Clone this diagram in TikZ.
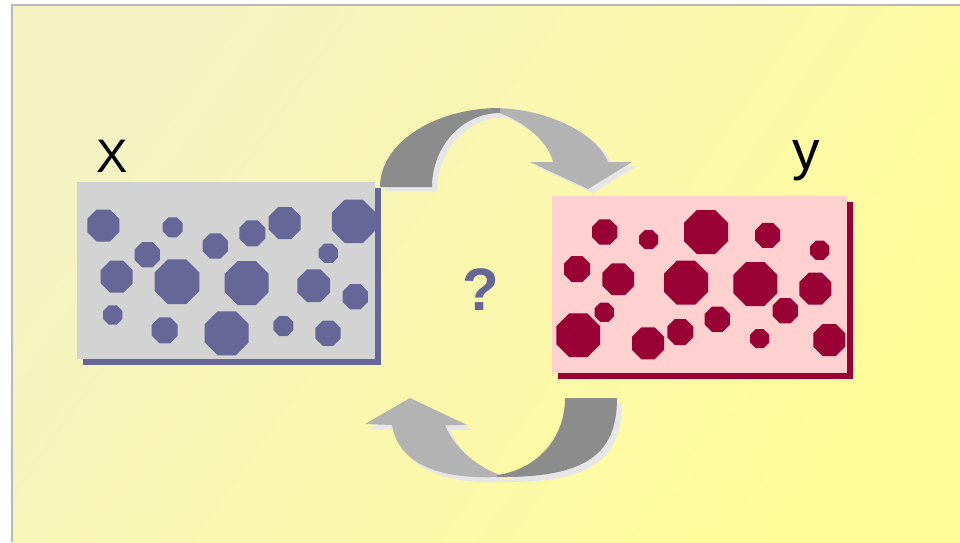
\documentclass[tikz,border=0pt]{standalone}
\usepackage{fontspec}
\setmainfont{Liberation Sans}
\usetikzlibrary{shadows}

\definecolor{bgpale}{HTML}{F5F3C2}
\definecolor{bgmid}{HTML}{FBF9A9}
\definecolor{bgyellow}{HTML}{FFFC9A}
\definecolor{framegray}{HTML}{B8B8B8}
\definecolor{xgray}{HTML}{D3D3D3}
\definecolor{xblue}{HTML}{666699}
\definecolor{ypink}{HTML}{FFD0D0}
\definecolor{ycrimson}{HTML}{990033}
\definecolor{arrowdark}{HTML}{8C8C8C}
\definecolor{arrowlight}{HTML}{B3B3B3}
\definecolor{arrowshadow}{HTML}{E6E6E6}

% ribbon arrow outlines (1 unit = 1pt, y grows downwards)
\def\toparrowdark{(380,187) .. controls (380,143.4) and (433.7,108) .. (500,108)
  -- (500,113) .. controls (462.4,113) and (432,146.1) .. (432,187) -- cycle}
\def\toparrowlight{(490,108) .. controls (540,107) and (595,130) .. (608,162)
  -- (632,162) -- (588,189) -- (530,162) -- (553,162)
  .. controls (548,140) and (520,118) .. (490,110) -- cycle}
\def\botarrowdark{(565,398) -- (617,398) .. controls (617,455) and (585,478) .. (497,477)
  -- (497,475) .. controls (535,470) and (565,440) .. (565,398) -- cycle}
\def\botarrowlight{(500,477) .. controls (450,479) and (400,470) .. (392,425)
  -- (365,424) -- (410,398) -- (467,425) -- (445,425)
  .. controls (455,450) and (480,468) .. (500,475) -- cycle}

\begin{document}
\begin{tikzpicture}[x=1pt,y=-1pt,
  panel/.style={inner sep=0pt, outer sep=0pt, anchor=north west,
    minimum width=#1pt},
  lbl/.style={inner sep=0pt, anchor=base},
  octagon/.style={fill=#1},
]
\useasboundingbox (0,0) rectangle (960,542);
\fill[white] (0,0) rectangle (960,542);

% slide background with frame edge
\shade[top color=bgpale, middle color=bgmid, bottom color=bgyellow, shading angle=55]
  (12,5) rectangle (960,542);
\draw[framegray, line width=2pt] (12,542) -- (12,5) -- (960,5);

% the two sets
\node[panel=298, minimum height=177pt, fill=xgray,
  drop shadow={shadow xshift=6pt, shadow yshift=-6pt, fill=xblue, opacity=1}]
  (xbox) at (77,182) {};
\node[panel=295, minimum height=177pt, fill=ypink,
  drop shadow={shadow xshift=6pt, shadow yshift=-6pt, fill=ycrimson, opacity=1}]
  (ybox) at (552,196) {};

% octagonal particles
\foreach \cx/\cy/\d in {103.3/225.5/32, 172.7/227.3/20, 147.3/254.7/25.3,
    215.3/246/25.3, 252.3/233.3/26, 284.7/223/32, 353.7/221.3/43.5,
    328.3/253.3/19.3, 116.7/276.7/32, 177/281.7/44.7, 246.7/283/44,
    313.7/285.7/32.7, 355.3/296.7/25.3, 112.7/315/19.3, 164.7/330.3/26,
    226.7/333.3/44, 283.3/326/20, 328/333.3/25.3}{
  \pgfmathsetmacro\r{0.5412*\d}
  \fill[octagon=xblue] (\cx,\cy) +(22.5:\r) -- +(67.5:\r) -- +(112.5:\r) -- +(157.5:\r)
    -- +(202.5:\r) -- +(247.5:\r) -- +(292.5:\r) -- +(337.5:\r) -- cycle;
}
\foreach \cx/\cy/\d in {604.7/232/25.3, 648.7/239.7/19, 706/232/44,
    767.7/235.3/25, 819.7/250.3/19.3, 577/269/26, 618.3/279.3/31.7,
    686/282.7/44, 755.3/284/44, 815.3/288.7/32, 604.3/312.3/19.3,
    785.3/310.7/25.3, 578.3/335.3/43.7, 648/343.3/32, 680.3/332/26,
    717.3/319.3/25.3, 759.7/338.7/19, 829.3/340/32}{
  \pgfmathsetmacro\r{0.5412*\d}
  \fill[octagon=ycrimson] (\cx,\cy) +(22.5:\r) -- +(67.5:\r) -- +(112.5:\r) -- +(157.5:\r)
    -- +(202.5:\r) -- +(247.5:\r) -- +(292.5:\r) -- +(337.5:\r) -- cycle;
}

% labels
\node[lbl, font=\fontsize{47}{47}\selectfont] (xlabel) at (112,172.5) {X};
\node[lbl, font=\fontsize{55}{55}\selectfont] (ylabel) at (806,169) {y};
\node[lbl, font=\bfseries\fontsize{60}{60}\selectfont, text=xblue] (qmark) at (481,310) {?};

% upper ribbon arrow
\fill[arrowshadow, shift={(5,4)}] \toparrowlight;
\fill[arrowshadow, shift={(5,4)}] \toparrowdark;
\fill[arrowlight] \toparrowlight;
\fill[arrowdark] \toparrowdark;

% lower ribbon arrow
\fill[arrowshadow, shift={(5,5)}] \botarrowlight;
\fill[arrowshadow, shift={(5,5)}] \botarrowdark;
\fill[arrowlight] \botarrowlight;
\fill[arrowdark] \botarrowdark;
\end{tikzpicture}
\end{document}
